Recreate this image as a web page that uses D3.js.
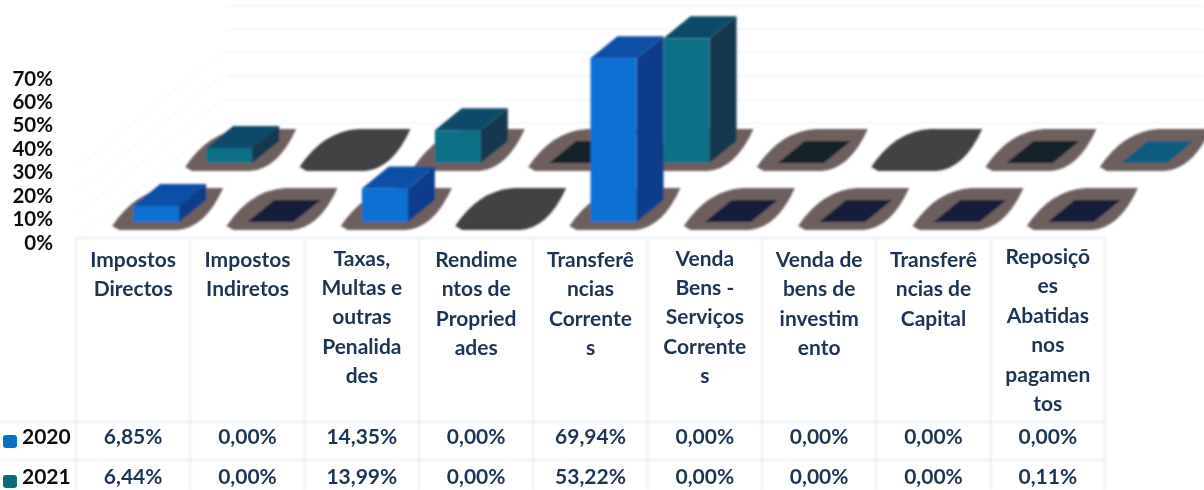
<!DOCTYPE html>
<html><head><meta charset="utf-8">
<script src="https://cdn.jsdelivr.net/npm/d3@7"></script>
<style>html,body{margin:0;padding:0;background:#fff;overflow:hidden}svg{display:block}text{font-family:Lato,"Open Sans",sans-serif}</style>
</head><body>
<script>
const categories = [
  ["Impostos","Directos"],
  ["Impostos","Indiretos"],
  ["Taxas,","Multas e","outras","Penalida","des"],
  ["Rendime","ntos de","Propried","ades"],
  ["Transferê","ncias","Corrente","s"],
  ["Venda","Bens -","Serviços","Corrente","s"],
  ["Venda de","bens de","investim","ento"],
  ["Transferê","ncias de","Capital"],
  ["Reposiçõ","es","Abatidas","nos","pagamen","tos"]
];
const seriesNames = ["2020","2021"];
const values2020 = [6.85,0,14.35,0,69.94,0,0,0,0];
const values2021 = [6.44,0,13.99,0,53.22,0,0,0,0.11];
const yTicks = [0,10,20,30,40,50,60,70];
const wallTicks = [0,10,20,30,40,50];
const greyBlobs2020 = [3];
const greyBlobs2021 = [1,6];

const W=1204,H=490;
const svg=d3.select("body").append("svg").attr("width",W).attr("height",H);
const defs=svg.append("defs");
defs.append("filter").attr("id","soft").attr("x","-10%").attr("y","-10%").attr("width","120%").attr("height","120%")
  .append("feGaussianBlur").attr("stdDeviation",0.8);
defs.append("filter").attr("id","softText").append("feGaussianBlur").attr("stdDeviation",0.35);

const x=d3.scaleBand().domain(d3.range(categories.length)).range([76,1105]);
const y=d3.scaleLinear().domain([0,70]).range([240,76]);
const fmt=d3.formatLocale({decimal:",",thousands:".",grouping:[3],currency:["",""]}).format(".2f");
const mid=i=>x(i)+x.bandwidth()/2;

// projection constants of the pseudo-3D chart
const barW=46, depthX=27, depthY=-22;
const rows=[
  {name:seriesNames[0],vals:values2020,blobs:greyBlobs2020,dx:0,base:y(0)-18,front:"#0f70d2",top:"#0a4fa6",side:"#0b3e8a",zero:"#141f3a",marker:"#0f70c8",tone:"#111"},
  {name:seriesNames[1],vals:values2021,blobs:greyBlobs2021,dx:73,base:y(0)-77,front:"#0e6f86",top:"#0c4a69",side:"#123850",zero:"#14202c",marker:"#0e6a7c",tone:"#111"}
];

// faint wall and floor lines
const grid=svg.append("g").attr("filter","url(#soft)");
grid.selectAll("line.wall").data(wallTicks).join("line")
  .attr("x1",226).attr("x2",W).attr("y1",d=>y(d)-117).attr("y2",d=>y(d)-117)
  .attr("stroke","#e9f0f4").attr("stroke-width",1.2);
grid.selectAll("line.side").data(yTicks.slice(0,4)).join("line")
  .attr("x1",77).attr("x2",222).attr("y1",d=>y(d)-2).attr("y2",d=>y(d)-117)
  .attr("stroke","#eef3f7").attr("stroke-width",1);

const lens=(l,b)=>`M${l-21},${b+4} Q${l+3},${b-32} ${l+38},${b-34} L${l+90},${b-34} Q${l+72},${b+6} ${l+44},${b+8} L${l-14},${b+8} Z`;

// bars: back row first
const chart=svg.append("g").attr("filter","url(#soft)");
rows.slice().reverse().forEach(r=>{
  const g=chart.append("g");
  r.vals.forEach((v,i)=>{
    const l=mid(i)+r.dx, b=r.base, t=b-(y(0)-y(v)), R=l+barW;
    if(r.blobs.includes(i)){
      g.append("path").attr("fill","#434345").attr("d",lens(l,b));
      return;
    }
    const foot=`M${l},${b} L${R},${b} L${R+depthX},${b+depthY} L${l+depthX},${b+depthY} Z`;
    g.append("path").attr("d",lens(l,b)).attr("fill","#6e5f5f");
    if(v<1){
      g.append("path").attr("d",foot).attr("fill",v>0?"#0f5c80":r.zero);
      return;
    }
    g.append("path").attr("fill",r.side).attr("d",`M${R},${b} L${R+depthX},${b+depthY} L${R+depthX},${t+depthY} L${R},${t} Z`);
    g.append("path").attr("fill",r.top).attr("d",`M${l},${t} L${R},${t} L${R+depthX},${t+depthY} L${l+depthX},${t+depthY} Z`);
    g.append("rect").attr("x",l).attr("y",t).attr("width",barW).attr("height",b-t).attr("fill",r.front);
  });
});

// y axis
const axis=svg.append("g").attr("transform","translate(53,2.5)").attr("filter","url(#softText)")
  .call(d3.axisLeft(y).tickValues(yTicks).tickSize(0).tickPadding(0).tickFormat(d=>d+"%"));
axis.select(".domain").remove();
axis.selectAll("text").attr("font-size",20.5).attr("font-weight",700).attr("fill","#111").attr("font-family","Lato");

// data table
const rowYs=[238,422,460,490];
const table=svg.append("g").attr("filter","url(#soft)");
x.domain().concat([categories.length]).forEach(i=>{
  const xp=i<categories.length?x(i):x.range()[1];
  table.append("line").attr("x1",xp).attr("x2",xp).attr("y1",rowYs[0]).attr("y2",H).attr("stroke","#e2eaf2").attr("stroke-width",1.5);
});
rowYs.slice(0,3).forEach((ry,i)=>table.append("line").attr("x1",i?0:76).attr("x2",1105).attr("y1",ry).attr("y2",ry).attr("stroke","#e2eaf2").attr("stroke-width",1.5));

const labels=svg.append("g").attr("filter","url(#softText)");
categories.forEach((lines,i)=>{
  const y0=267-Math.max(0,lines.length-4)*1.5;
  const t=labels.append("text").attr("text-anchor","middle").attr("font-size",21).attr("font-weight",700).attr("fill","#1f3555");
  lines.forEach((s,k)=>t.append("tspan").attr("x",mid(i)).attr("y",y0+29.4*k).text(s));
});
const rowText=[444,484];
rows.forEach((r,k)=>{
  labels.append("rect").attr("x",3).attr("y",rowText[k]-9).attr("width",14).attr("height",13).attr("rx",3).attr("fill",r.marker);
  labels.append("text").attr("x",22).attr("y",rowText[k]).attr("font-size",21).attr("font-weight",700).attr("fill",r.tone).text(r.name);
  r.vals.forEach((v,i)=>labels.append("text").attr("x",mid(i)).attr("y",rowText[k]).attr("text-anchor","middle")
    .attr("font-size",21).attr("font-weight",700).attr("fill","#1f3555").text(fmt(v)+"%"));
});
</script>
</body></html>
